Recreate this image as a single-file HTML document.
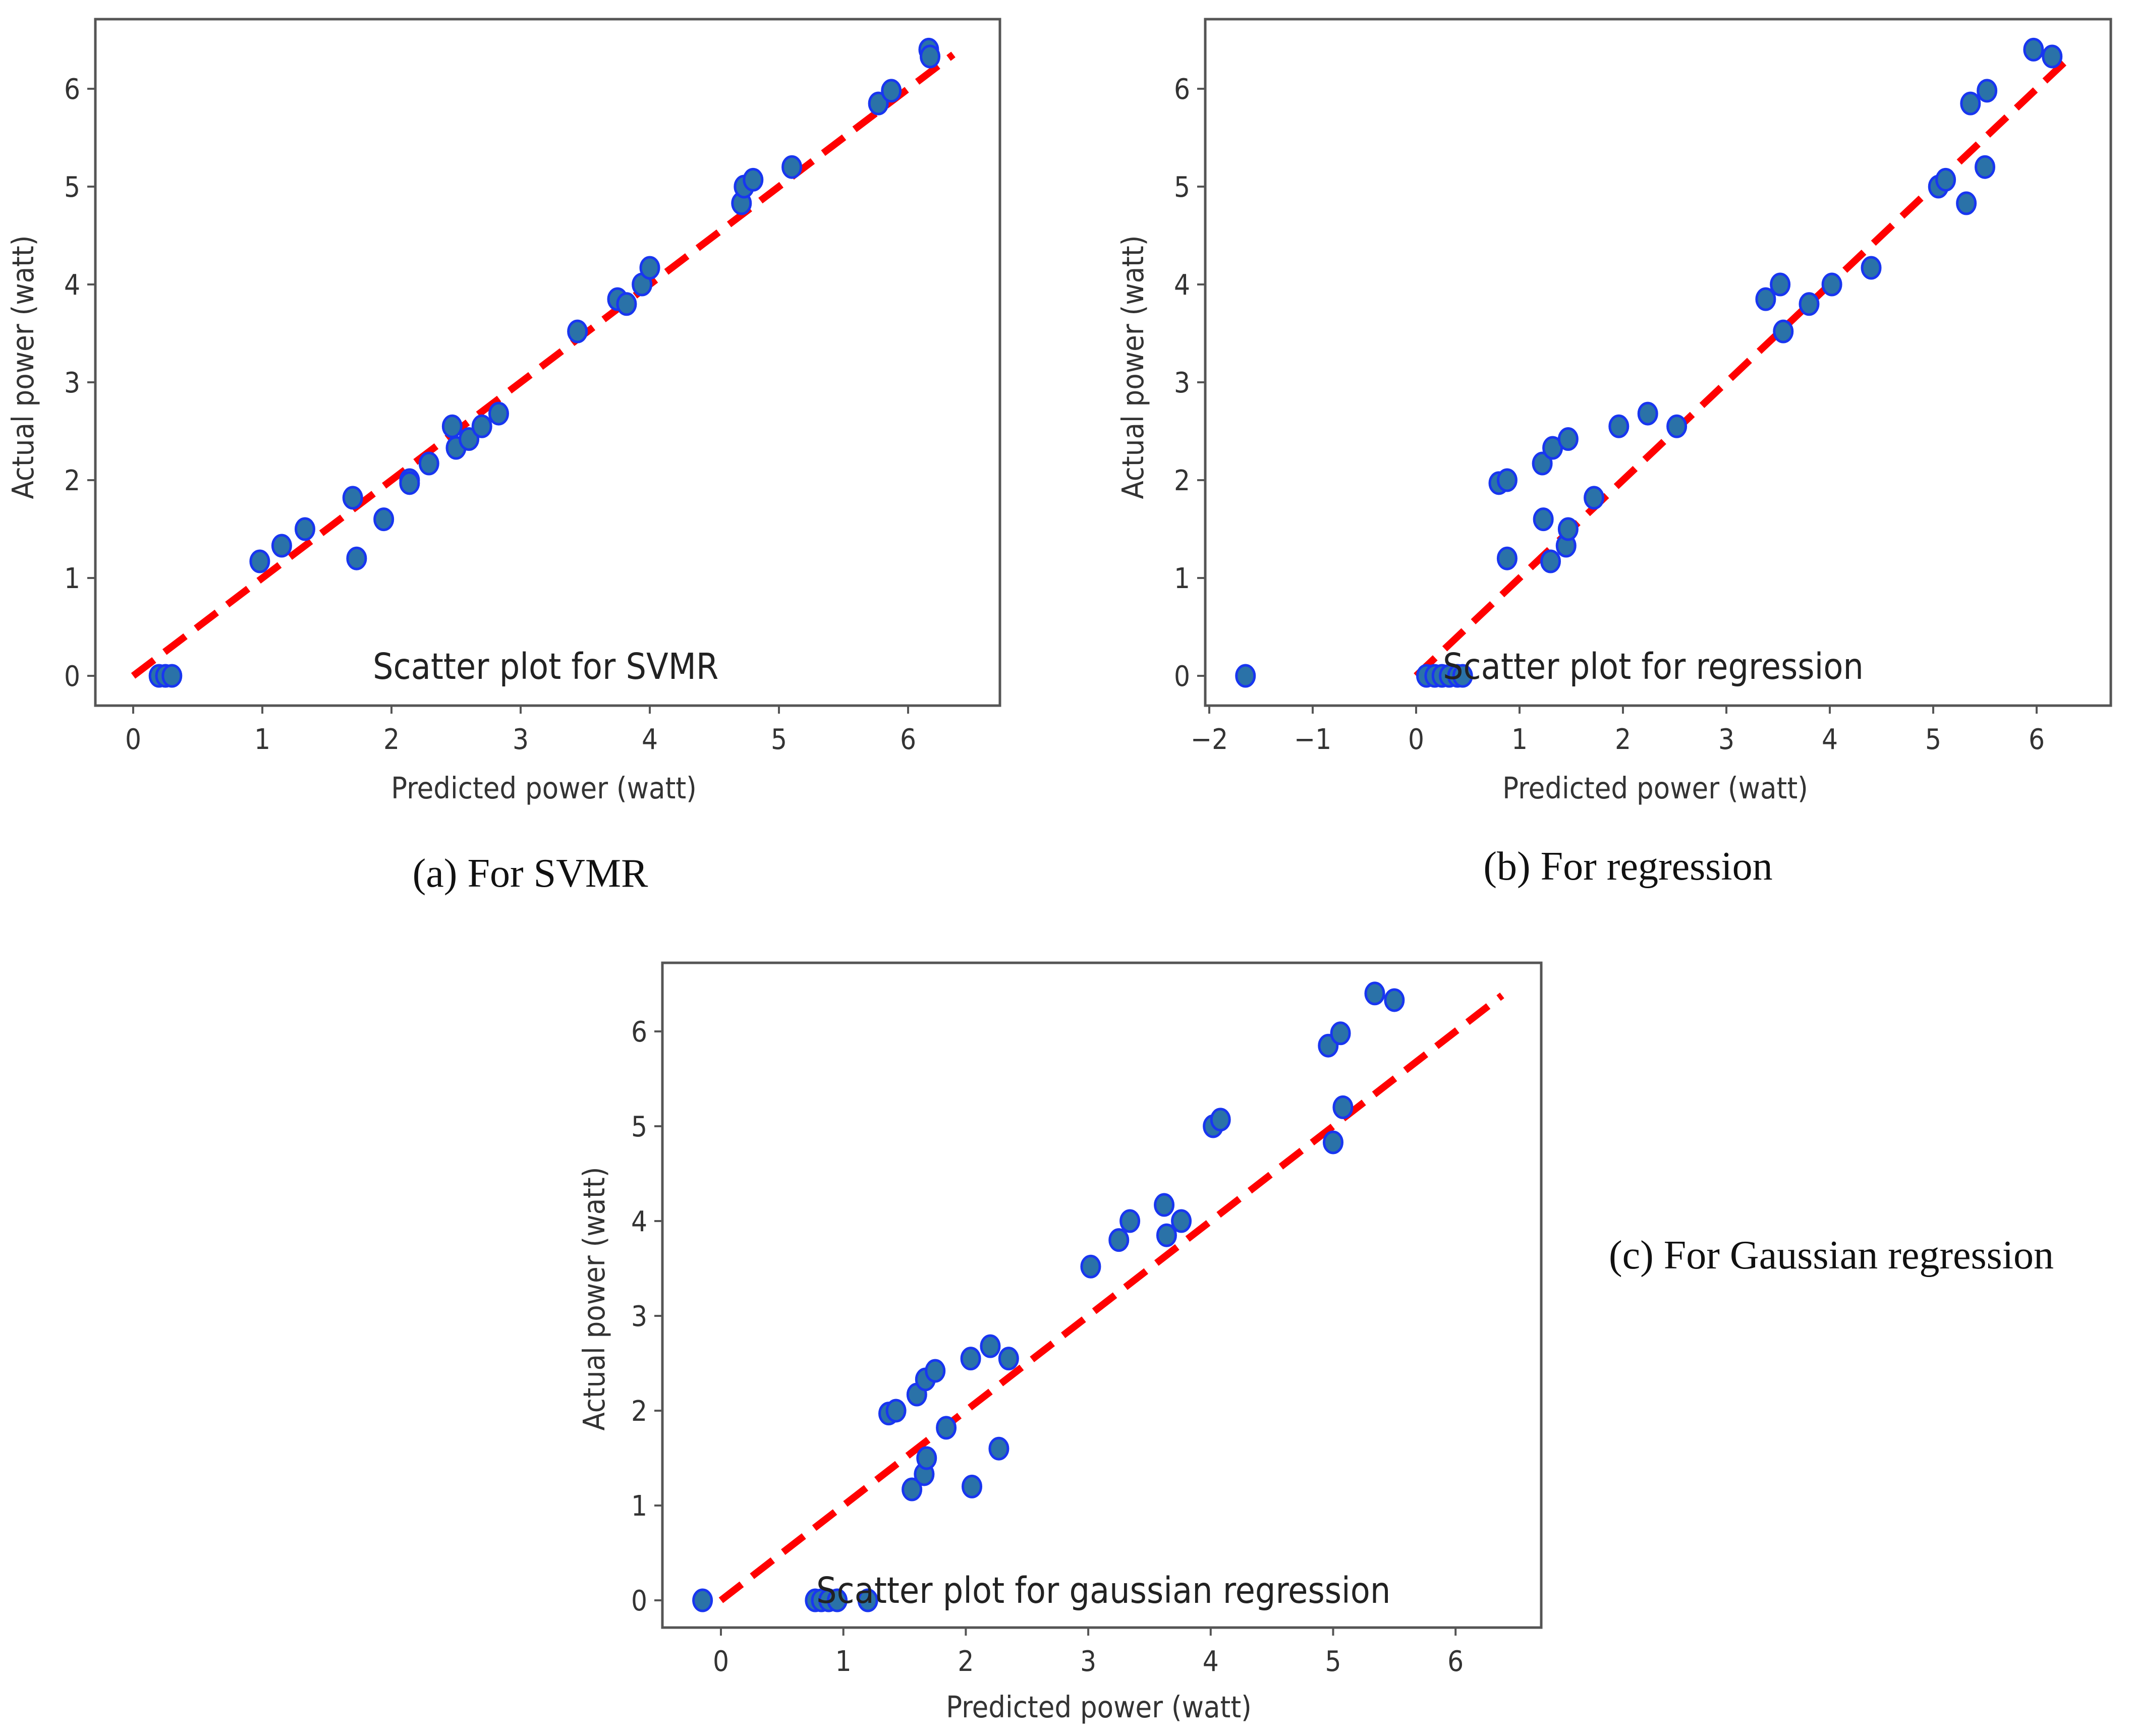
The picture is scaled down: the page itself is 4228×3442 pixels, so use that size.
<!DOCTYPE html>
<html><head><meta charset="utf-8">
<style>
html,body{margin:0;padding:0;background:#fff;}
svg{display:block;}
.tk{font-family:"DejaVu Sans Condensed","Liberation Sans Narrow","Liberation Sans",sans-serif;font-size:56px;fill:#333;}
.al{font-family:"DejaVu Sans Condensed","Liberation Sans Narrow","Liberation Sans",sans-serif;font-size:59px;fill:#333;}
.an{font-family:"DejaVu Sans Condensed","Liberation Sans Narrow","Liberation Sans",sans-serif;font-size:71px;fill:#222;}
.cap{font-family:"Liberation Serif",serif;font-size:80px;fill:#111;}
</style></head>
<body>
<svg id="fig" width="4228" height="3442" viewBox="0 0 4228 3442" xmlns="http://www.w3.org/2000/svg"></svg>
<script>
const svmrX=[0.2,0.25,0.3,0.98,1.15,1.33,1.7,1.73,1.94,2.14,2.14,2.29,2.47,2.5,2.6,2.7,2.83,3.44,3.75,3.82,3.94,4.0,4.71,4.73,4.8,5.1,5.77,5.87,6.16,6.17];
const svmrY=[0,0,0,1.17,1.33,1.5,1.82,1.2,1.6,2.0,1.97,2.17,2.55,2.33,2.42,2.55,2.68,3.52,3.85,3.8,4.0,4.17,4.83,5.0,5.07,5.2,5.85,5.98,6.4,6.33];
const regX=[-1.65,0.1,0.18,0.25,0.32,0.4,0.45,0.8,0.88,0.88,1.22,1.23,1.3,1.32,1.45,1.47,1.47,1.72,1.96,2.24,2.52,3.38,3.52,3.55,3.8,4.02,4.4,5.05,5.12,5.32,5.36,5.5,5.52,5.97,6.15];
const regY=[0,0,0,0,0,0,0,1.97,2.0,1.2,2.17,1.6,1.17,2.33,1.33,2.42,1.5,1.82,2.55,2.68,2.55,3.85,4.0,3.52,3.8,4.0,4.17,5.0,5.07,4.83,5.85,5.2,5.98,6.4,6.33];
const gauX=[-0.15,0.77,0.82,0.88,0.95,1.2,1.37,1.43,1.56,1.6,1.66,1.67,1.68,1.75,1.84,2.04,2.05,2.2,2.27,2.35,3.02,3.25,3.34,3.62,3.64,3.76,4.02,4.08,4.96,5.0,5.06,5.08,5.34,5.5];
const gauY=[0,0,0,0,0,0,1.97,2.0,1.17,2.17,1.33,2.33,1.5,2.42,1.82,2.55,1.2,2.68,1.6,2.55,3.52,3.8,4.0,4.17,3.85,4.0,5.0,5.07,5.85,4.83,5.98,5.2,6.4,6.33];
const xTicksAC=[0,1,2,3,4,5,6];
const xTicksB=[-2,-1,0,1,2,3,4,5,6];
const yTicks=[0,1,2,3,4,5,6];
const idealLine=[0,6.35];

const NS="http://www.w3.org/2000/svg";
const fig=document.getElementById('fig');
function mk(tag,attrs,parent,txt){const e=document.createElementNS(NS,tag);for(const k in attrs)e.setAttribute(k,attrs[k]);if(txt!==undefined)e.textContent=txt;(parent||fig).appendChild(e);return e;}

function panel(p){
  const g=mk('g',{});
  
  
  const sx=v=>p.x0+(v)*p.kx, sy=v=>p.y0-(v)*p.ky;
  const ln=mk('line',{x1:sx(idealLine[0]),y1:sy(idealLine[0]),x2:sx(p.lineEnd),y2:sy(p.lineEnd),stroke:'#ff0000','stroke-width':14,'stroke-dasharray':'52,26'},g);
  
  
  for(let i=0;i<p.xs.length;i++){
    const c=mk('ellipse',{cx:sx(p.xs[i]),cy:sy(p.ys[i]),rx:18,ry:21,fill:'#2a72a8',stroke:'#1836f0','stroke-width':5},g);
    
    
  }
  const box=mk('rect',{x:p.L,y:p.T,width:p.R-p.L,height:p.B-p.T,fill:'none',stroke:'#555','stroke-width':5},g);
  
  
  p.xt.forEach(v=>{
    mk('line',{x1:sx(v),y1:p.B,x2:sx(v),y2:p.B+16,stroke:'#555','stroke-width':4},g);
    const t=mk('text',{x:sx(v),y:p.B+86,'text-anchor':'middle',class:'tk'},g,v<0?'\u2212'+(-v):String(v));
    
    
  });
  yTicks.forEach(v=>{
    mk('line',{x1:p.L-16,y1:sy(v),x2:p.L,y2:sy(v),stroke:'#555','stroke-width':4},g);
    const t=mk('text',{x:p.L-30,y:sy(v)+20,'text-anchor':'end',class:'tk'},g,String(v));
    
    
  });
  const xl=mk('text',{x:p.xlx,y:p.xly,'text-anchor':'middle',class:'al'},g,'Predicted power (watt)');
  
  
  const yl=mk('text',{x:0,y:0,'text-anchor':'middle',class:'al',transform:`translate(${p.ylx},${p.yly}) rotate(-90)`},g,'Actual power (watt)');
  
  
  const an=mk('text',{x:p.anx,y:p.any,class:'an'},g,p.ann);
  
  
  const cp=mk('text',{x:p.cx,y:p.cy,'text-anchor':p.ca,class:'cap'},g,p.cap);
  
  
}

panel({name:'panel-svmr',xs:svmrX,ys:svmrY,xt:xTicksAC,L:189,T:38,R:1982,B:1399,x0:264,kx:256,y0:1340,ky:194,lineEnd:6.35,
  xlx:1078,xly:1583,ylx:66,yly:728,ann:'Scatter plot for SVMR',anx:739,any:1346,cap:'(a) For SVMR',cx:1051,cy:1758,ca:'middle'});
panel({name:'panel-regression',xs:regX,ys:regY,xt:xTicksB,L:2389,T:38,R:4184,B:1399,x0:2807,kx:205,y0:1340,ky:194,lineEnd:6.35,
  xlx:3281,xly:1583,ylx:2266,yly:728,ann:'Scatter plot for regression',anx:2860,any:1346,cap:'(b) For regression',cx:3227,cy:1744,ca:'middle'});
panel({name:'panel-gaussian',xs:gauX,ys:gauY,xt:xTicksAC,L:1313,T:1909,R:3055,B:3227,x0:1429,kx:242.7,y0:3173,ky:188,lineEnd:6.38,
  xlx:2178,xly:3405,ylx:1198,yly:2575,ann:'Scatter plot for gaussian regression',anx:1618,any:3178,cap:'(c) For Gaussian regression',cx:3189,cy:2515,ca:'start'});
</script>
</body></html>
